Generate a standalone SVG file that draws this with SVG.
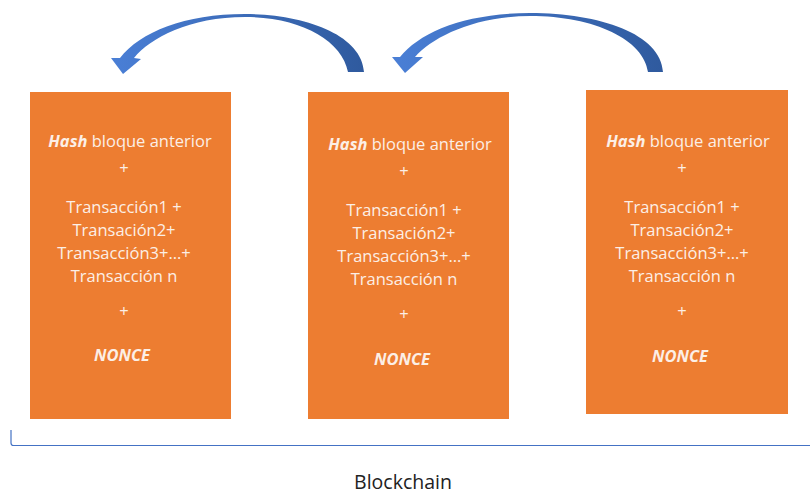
<svg xmlns="http://www.w3.org/2000/svg" width="810" height="496" viewBox="0 0 810 496">
<defs>
<linearGradient id="ag" x1="0" y1="0" x2="1" y2="0">
<stop offset="0" stop-color="#4A7FD6"/>
<stop offset="1" stop-color="#2F5A9E"/>
</linearGradient>
<style>
.box{fill:#ED7D31;}
.t{font-family:"Open Sans","Liberation Sans",Arial,sans-serif;font-size:16.5px;fill:#FCEFE6;text-anchor:middle;}
.bi{font-weight:bold;font-style:italic;}
.arrow{fill:url(#ag);}
.cap{font-family:"Open Sans","Liberation Sans",sans-serif;font-size:19.5px;fill:#222;text-anchor:middle;}
</style>
</defs>
<rect width="810" height="496" fill="#fff"/>
<g id="block1">
<rect class="box" x="30" y="92" width="201" height="327"/>
<text class="t" x="130" y="147"><tspan class="bi">Hash</tspan> bloque anterior</text>
<text class="t" x="124" y="174">+</text>
<text class="t" x="124" y="213">Transacción1 +</text>
<text class="t" x="124" y="236">Transación2+</text>
<text class="t" x="124" y="259">Transacción3+…+</text>
<text class="t" x="124" y="282">Transacción n</text>
<text class="t" x="124" y="317">+</text>
<text class="t bi" x="122" y="361">NONCE</text>
</g>
<g id="block2">
<rect class="box" x="308" y="92" width="201" height="327"/>
<text class="t" x="410" y="150"><tspan class="bi">Hash</tspan> bloque anterior</text>
<text class="t" x="404" y="177">+</text>
<text class="t" x="404" y="216">Transacción1 +</text>
<text class="t" x="404" y="239">Transación2+</text>
<text class="t" x="404" y="262">Transacción3+…+</text>
<text class="t" x="404" y="285">Transacción n</text>
<text class="t" x="404" y="320">+</text>
<text class="t bi" x="402" y="365">NONCE</text>
</g>
<g id="block3">
<rect class="box" x="586" y="90" width="202" height="324"/>
<text class="t" x="688" y="147"><tspan class="bi">Hash</tspan> bloque anterior</text>
<text class="t" x="682" y="174">+</text>
<text class="t" x="682" y="213">Transacción1 +</text>
<text class="t" x="682" y="236">Transación2+</text>
<text class="t" x="682" y="259">Transacción3+…+</text>
<text class="t" x="682" y="282">Transacción n</text>
<text class="t" x="682" y="317">+</text>
<text class="t bi" x="680" y="362">NONCE</text>
</g>
<g id="connectors">
<path class="arrow" d="M364,72 C362,35 305,14 245,14 C185,14 140,32 120,58 L111,58 L123,74 L141,59 L134,58 C150,38 190,17 245,17 C300,17 342,40 348,72 Z"/>
<path class="arrow" d="M663,72 C661,34 600,13 530,13 C465,13 420,32 400,57 L392,57 L405,73 L423,57 L415,57 C432,37 475,16 530,16 C595,16 644,40 648,72 Z"/>
</g>
<g id="bracket">
<path d="M11,430 L11,443 Q11,445.5 13.5,445.5 L810,445.5" fill="none" stroke="#4472C4" stroke-width="1.2"/>
<text class="cap" x="403" y="489">Blockchain</text>
</g>
</svg>
